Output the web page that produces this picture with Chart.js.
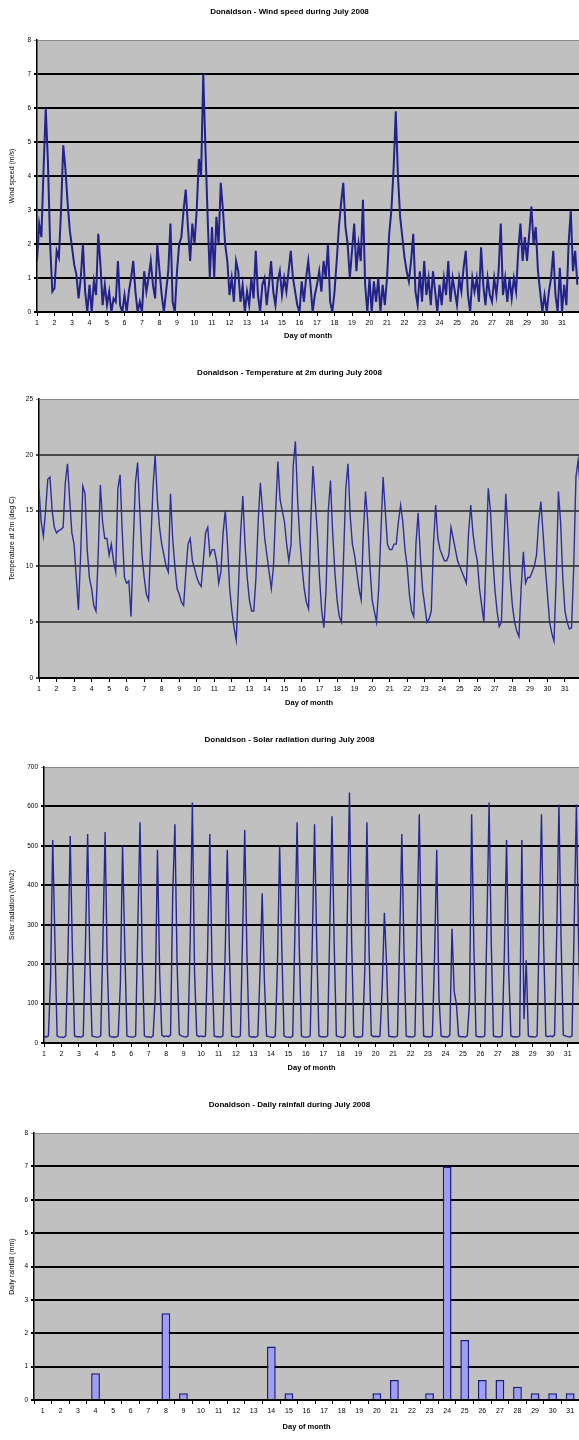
<!DOCTYPE html>
<html>
<head>
<meta charset="utf-8">
<title>Donaldson - July 2008</title>
<script src="https://cdn.jsdelivr.net/npm/chart.js@4.4.0/dist/chart.umd.min.js"></script>
<style>
  html, body { margin: 0; padding: 0; background: #fff; overflow: hidden; }
  body { position: relative; width: 579px; height: 1440px; }
  .box { position: absolute; left: 0; width: 579px; }
</style>
</head>
<body>
<div class="box" style="top:2px;height:347px"><canvas id="windChart"></canvas></div>
<div class="box" style="top:363px;height:353px"><canvas id="tempChart"></canvas></div>
<div class="box" style="top:730px;height:351px"><canvas id="solarChart"></canvas></div>
<div class="box" style="top:1095px;height:345px"><canvas id="rainChart"></canvas></div>
<script>
// readings every 3 hours (00, 03, ... 21h), 8 per day, July 1 - 31
var samplesPerDay = 8;
var dayTicks = ["1","2","3","4","5","6","7","8","9","10","11","12","13","14","15","16","17","18","19","20","21","22","23","24","25","26","27","28","29","30","31"];
var windTicks = [0, 1, 2, 3, 4, 5, 6, 7, 8];
var tempTicks = [0, 5, 10, 15, 20, 25];
var solarTicks = [0, 100, 200, 300, 400, 500, 600, 700];
var rainTicks = [0, 1, 2, 3, 4, 5, 6, 7, 8];

var windSpeed = [
  1.5,2.6,2.2,4.2,6.0,4.4,2.0,0.6,  0.7,1.8,1.6,3.0,4.9,4.2,3.2,2.4,
  1.9,1.4,1.1,0.4,1.0,2.0,0.6,0.0,  0.8,0.0,0.9,0.5,2.3,1.4,0.2,0.8,
  0.2,0.6,0.0,0.4,0.3,1.5,0.2,0.0,  0.5,0.0,0.6,1.0,1.5,0.6,0.0,0.3,
  0.0,1.2,0.6,1.0,1.5,0.8,0.4,2.0,  1.2,0.5,0.0,0.6,1.2,2.6,0.3,0.0,
  1.2,2.0,2.2,3.0,3.6,2.5,1.5,2.6,  2.0,3.0,4.5,4.0,7.0,4.8,2.8,1.0,
  2.5,1.0,2.8,2.0,3.8,3.0,2.0,1.5,  0.5,1.0,0.3,1.5,1.2,0.3,0.8,0.0,
  0.6,0.2,1.0,0.4,1.8,0.5,0.0,0.8,  1.0,0.2,0.8,1.5,0.6,0.2,0.9,1.2,
  0.5,1.0,0.6,1.2,1.8,1.0,0.6,0.2,  0.0,0.9,0.3,1.0,1.5,0.8,0.0,0.5,
  0.8,1.2,0.6,1.5,1.0,2.0,0.3,0.0,  0.6,1.5,2.5,3.2,3.8,2.5,2.0,1.0,
  1.8,2.6,1.2,2.0,1.5,3.3,0.8,0.0,  1.0,0.0,0.9,0.3,1.0,0.0,0.8,0.2,
  1.0,2.3,3.0,4.2,5.9,4.0,2.8,2.2,  1.6,1.2,0.9,1.5,2.3,0.6,0.2,1.2,
  0.3,1.5,0.5,1.0,0.2,1.2,0.6,0.0,  0.8,0.2,1.0,0.5,1.5,0.3,1.0,0.6,
  0.2,1.0,0.6,1.3,1.8,0.5,0.0,1.0,  0.6,1.0,0.3,1.9,0.8,0.2,1.0,0.5,
  0.3,1.0,0.5,1.2,2.6,0.5,1.0,0.3,  1.0,0.4,1.0,0.6,1.8,2.6,1.5,2.2,
  1.5,2.3,3.1,2.0,2.5,1.2,0.6,0.0,  0.5,0.0,0.6,1.0,1.8,0.5,0.0,1.3,
  0.0,0.8,0.2,2.0,3.0,1.2,1.8,0.8
];

var temperature = [
  16.9,14,12.7,15,17.8,18,15,13.5,   13,13.2,13.3,13.5,17.5,19.2,16,13,
  12,9,6.1,11,17.2,16.5,11.5,9,      8,6.5,6,11,17.3,14,12.5,12.5,
  11,12,10.5,9.5,17,18.2,13,9,       8.5,8.7,5.5,12,17.5,19.3,15,11,
  9,7.5,7,12,17,20,16,13.5,          12,11,10,9.5,16.5,12.5,10,8,
  7.5,6.8,6.5,9.5,12,12.5,10.5,9.8,  9,8.5,8.2,10.5,13,13.5,11,11.5,
  11.5,10.5,8.5,9.5,13,15,12,8,      6,4.5,3.4,8,13,16.3,12,9,
  7,6,6,9,14,17.5,15,12.5,           11,9.5,8,10,15,19.4,16,15,
  14,12,10.5,12,19,21.2,16,12.5,     10,8,6.8,6.2,14,19,16,13,
  9,6,4.5,8,15,17.7,13,9.5,          7,5.5,5,11,17,19.2,14.5,12,
  11,9.5,8,7,13,16.7,14,10,          7,6,5,8,13,18,15,12,
  11.5,11.5,12,12,14,15.5,14,11.5,   10,7.5,6,5.5,12,14.8,11,8,
  6.5,5,5.3,6,12,15.5,12.5,11.5,     11,10.5,10.5,11,13.5,12.5,11.5,10.5,
  10,9.5,9,8.5,13,15.5,13,11.5,      10.5,8,6.5,5,11,17,15,11,
  8,6,4.6,5,11,16.5,13,9,            6.5,5,4.2,3.7,8,11.3,8.5,9,
  9,9.5,10,11,14,15.8,13,10,         7.5,5,4,3.3,9,16.7,14,9,
  6,5,4.4,4.5,10,18,19.5,17
];

var solarRadiation = [
  18,15,18,160,515,260,18,15,  15,14,18,230,525,240,18,16,
  16,15,18,250,530,220,18,16,  15,15,18,260,535,200,18,15,
  16,15,18,150,500,250,18,16,  15,15,18,300,560,230,18,15,
  16,14,18,120,490,180,20,16,  18,16,20,380,555,200,22,18,
  16,15,18,260,610,180,20,16,  18,16,18,240,530,200,18,16,
  16,15,18,220,490,230,18,16,  15,15,18,270,540,230,18,15,
  16,15,18,180,380,160,18,16,  15,14,18,200,500,240,18,15,
  15,14,18,280,560,240,18,15,  15,15,18,270,555,250,18,16,
  16,15,18,300,575,250,18,16,  15,14,18,320,635,260,18,15,
  16,15,18,180,560,230,20,16,  17,16,18,140,330,200,18,16,
  16,15,18,260,530,230,18,16,  16,15,18,300,580,240,18,16,
  16,15,18,220,490,120,18,16,  16,15,20,290,130,100,18,16,
  16,15,18,100,580,250,18,16,  16,15,18,300,610,250,18,16,
  16,15,18,230,515,180,18,16,  16,15,18,515,60,210,18,16,
  16,15,18,300,580,250,18,16,  18,16,20,280,605,260,20,18,
  16,15,18,300,605,260,18,16
];

var dailyRainfall = [0,0,0,0.8,0,0,0,2.6,0.2,0,0,0,0,1.6,0.2,0,0,0,0,0.2,0.6,0,0.2,7.0,1.8,0.6,0.6,0.4,0.2,0.2,0.2];

var FONT = '"Liberation Sans", Arial, sans-serif';

var plotBg = {
  id: 'plotBg',
  beforeDraw: function (chart) {
    var a = chart.chartArea;
    var ctx = chart.ctx;
    ctx.save();
    ctx.fillStyle = '#c0c0c0';
    ctx.fillRect(a.left, a.top, a.right - a.left, a.bottom - a.top);
    ctx.restore();
  }
};

function toPoints(values) {
  return values.map(function (v, i) { return { x: 1 + i / samplesPerDay, y: v }; });
}

function yScale(ticks, title, width, gridColor) {
  var top = ticks[ticks.length - 1];
  return {
    min: ticks[0],
    max: top,
    afterFit: function (s) { s.width = width; },
    ticks: { stepSize: ticks[1] - ticks[0], padding: 3, color: '#000', font: { family: FONT, size: 6.5 } },
    grid: {
      color: function (c) { return c.tick && c.tick.value === top ? '#8a8a8a' : gridColor; },
      lineWidth: function (c) { return c.tick && c.tick.value === top ? 1 : 2; },
      tickLength: 3
    },
    border: { color: '#000', width: 1.5 },
    title: { display: true, text: title, color: '#000', font: { family: FONT, size: 7 }, padding: { top: 8, bottom: 0 } }
  };
}

function xTitle() {
  return { display: true, text: 'Day of month', color: '#000', font: { family: FONT, size: 7.5, weight: 'bold' }, padding: { top: 0, bottom: 8.5 } };
}

function chartTitle(text, padBottom) {
  return { display: true, text: text, color: '#000', font: { family: FONT, size: 8, weight: 'bold' }, padding: { top: 5.2, bottom: padBottom } };
}

function makeLineChart(id, values, opts) {
  return new Chart(id, {
    type: 'line',
    data: {
      datasets: [{
        data: toPoints(values),
        borderColor: opts.color,
        borderWidth: opts.lineWidth,
        pointRadius: 0,
        tension: 0,
        fill: false
      }]
    },
    options: {
      responsive: true,
      maintainAspectRatio: false,
      animation: false,
      layout: { padding: 0 },
      plugins: {
        legend: { display: false },
        tooltip: { enabled: false },
        title: chartTitle(opts.title, opts.titlePad)
      },
      scales: {
        x: {
          type: 'linear',
          min: 1,
          max: opts.xMax,
          afterFit: function (s) { s.height = opts.xHeight; },
          ticks: {
            stepSize: 1, includeBounds: false, autoSkip: false, maxRotation: 0, padding: 3,
            color: '#000', font: { family: FONT, size: 7 },
            callback: function (v) { return dayTicks[v - 1]; }
          },
          grid: { drawOnChartArea: false, tickLength: 4, color: '#000', lineWidth: 1 },
          border: { color: '#000', width: 2 },
          title: xTitle()
        },
        y: yScale(opts.yTicks, opts.yTitle, opts.yWidth, opts.gridColor)
      }
    },
    plugins: [plotBg]
  });
}

makeLineChart('windChart', windSpeed, {
  title: 'Donaldson - Wind speed during July 2008', titlePad: 23.2,
  yTicks: windTicks, yTitle: 'Wind speed (m/s)', yWidth: 37,
  xMax: 31.97, xHeight: 37, color: '#22228a', lineWidth: 2, gridColor: '#000'
});

makeLineChart('tempChart', temperature, {
  title: 'Donaldson - Temperature at 2m during July 2008', titlePad: 21.2,
  yTicks: tempTicks, yTitle: 'Temperature at 2m (deg C)', yWidth: 39,
  xMax: 31.8, xHeight: 38, color: '#2e2e9a', lineWidth: 1.4, gridColor: '#4a4a4a'
});

makeLineChart('solarChart', solarRadiation, {
  title: 'Donaldson - Solar radiation during July 2008', titlePad: 22.2,
  yTicks: solarTicks, yTitle: 'Solar radiation (W/m2)', yWidth: 44,
  xMax: 31.65, xHeight: 38, color: '#262692', lineWidth: 1.4, gridColor: '#000'
});

new Chart('rainChart', {
  type: 'bar',
  data: {
    labels: dayTicks,
    datasets: [{
      data: dailyRainfall,
      backgroundColor: '#9e9ef2',
      borderColor: '#1c1c80',
      borderWidth: 1.5,
      barPercentage: 0.5,
      categoryPercentage: 1
    }]
  },
  options: {
    responsive: true,
    maintainAspectRatio: false,
    animation: false,
    layout: { padding: 0 },
    plugins: {
      legend: { display: false },
      tooltip: { enabled: false },
      title: chartTitle('Donaldson - Daily rainfall during July 2008', 23.2)
    },
    scales: {
      x: {
        afterFit: function (s) { s.height = 40; },
        ticks: { autoSkip: false, maxRotation: 0, padding: 3, color: '#000', font: { family: FONT, size: 7 } },
        grid: { drawOnChartArea: false, tickLength: 4, color: '#000', lineWidth: 1 },
        border: { color: '#000', width: 2 },
        title: xTitle()
      },
      y: yScale(rainTicks, 'Daily rainfall (mm)', 34, '#000')
    }
  },
  plugins: [plotBg]
});
</script>
</body>
</html>
